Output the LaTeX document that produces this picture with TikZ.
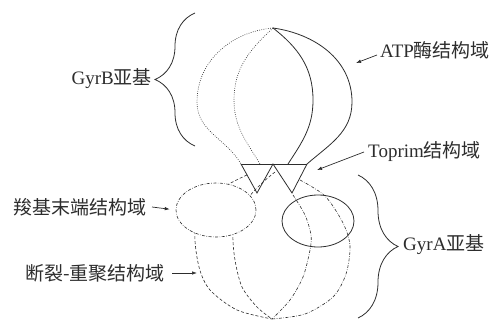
\documentclass[tikz,border=0pt]{standalone}
\usepackage{fontspec}
\setmainfont{Liberation Serif}
\newfontfamily\latin{Liberation Serif}
\newfontfamily\cjk{Noto Sans CJK SC}
\usetikzlibrary{positioning,arrows.meta,shapes.geometric,decorations.pathreplacing}
\definecolor{InkGray}{RGB}{45,45,45}
\tikzset{
  lbl/.style={text=InkGray,inner sep=0pt,font=\latin\fontsize{19}{21}\selectfont},
  ptr/.style={draw=InkGray,line width=0.7pt,-{Latex[length=5pt,width=3.5pt]}},
  shell/.style={draw=InkGray,line width=0.8pt},
  hidden/.style={draw=InkGray,line width=0.6pt,dash pattern=on 0.8pt off 1.4pt},
  dashline/.style={draw=InkGray,line width=0.6pt,dash pattern=on 3pt off 2pt},
  dotdash/.style={draw=InkGray,line width=0.6pt,dash pattern=on 3pt off 1.5pt on 0.6pt off 1.5pt},
  curly/.style={draw=InkGray,line width=0.8pt,decorate,decoration={brace,amplitude=40pt}},
}

\begin{document}
\begin{tikzpicture}[x=1pt,y=1pt]
\useasboundingbox (0,0) rectangle (497,324);
% anchor points of the two halves
\coordinate (top) at (273,296);
\coordinate (bot) at (272,5);
\coordinate (t1l) at (241,160);
\coordinate (t1r) at (273,160);
\coordinate (t1a) at (257,131);
\coordinate (t2r) at (307,160);
\coordinate (t2a) at (292,131);

% lower half: meridians
\draw[dashline] plot[smooth] coordinates {(247,149) (226,138) (205,118) (195,91) (199,57) (210,34) (237,14) (bot)};
\draw[dashline] plot[smooth] coordinates {(275,152) (262,141) (249,127) (238,108) (233,89) (235,64) (242,37) (257,17) (bot)};
\draw[dotdash] plot[smooth] coordinates {(293,129) (305,109) (311,89) (310,74) (303,47) (290,24) (bot)};
\draw[dotdash] plot[smooth] coordinates {(300,144) (325,128) (343,101) (350,78) (346,50) (333,27) (305,10) (bot)};

% domains on the lower half
\node[ellipse,dotdash,fill=white,minimum width=80pt,minimum height=54pt,inner sep=0pt] (ctd) at (216,114) {};
\node[ellipse,shell,minimum width=72pt,minimum height=52pt,inner sep=0pt] (rdom) at (318,103) {};

% upper half
\draw[hidden] (top) to[out=185,in=90] (197,222) to[out=-90,in=120] (t1l);
\draw[hidden] (top) to[out=223,in=90] (234,224) to[out=-90,in=121] (260,160);
\draw[shell] (top) to[out=-38,in=90] (313,224) to[out=-90,in=57] (288,160);
\draw[shell] (top) to[out=-8,in=90] (352,222) to[out=-90,in=41] (t2r);

% Toprim triangles
\draw[shell] (t1l) -- (t2r);
\draw[shell] (t1l) -- (t1a) -- (t1r) -- (t2a) -- (t2r);

% braces
\draw[curly] (195,178) -- (195,311);
\draw[curly] (358,149) -- (358,6);

% labels
\node[lbl,anchor=east] (gyrb) at (152,245) {GyrB{\cjk 亚基}};
\node[lbl,anchor=west] (gyra) at (403,79) {GyrA{\cjk 亚基}};
\node[lbl,anchor=west] (atp) at (380,274) {ATP{\cjk 酶结构域}};
\node[lbl,anchor=west] (toprim) at (368,172) {Toprim{\cjk 结构域}};
\node[lbl,anchor=east] (cterm) at (147,117) {{\cjk 羧基末端结构域}};
\node[lbl,anchor=east] (brk) at (165,51) {{\cjk 断裂-重聚结构域}};

\coordinate (atptip) at (356,261);
\coordinate (toptip) at (317,154);
\coordinate (brktip) at (197,51);

\draw[ptr] ([shift={(-3pt,-5pt)}]atp.west) -- (atptip);
\draw[ptr] ([xshift=-4pt]toprim.west) -- (toptip);
\draw[ptr,shorten >=6pt] ([xshift=5pt]cterm.east) -- (ctd.west);
\draw[ptr] ([xshift=7pt]brk.east) -- (brktip);
\end{tikzpicture}
\end{document}
